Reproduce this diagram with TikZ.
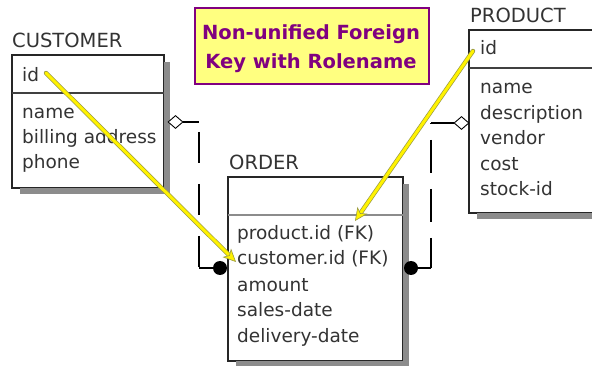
\documentclass[tikz,border=0pt]{standalone}
\usepackage{fontspec}
\setmainfont{DejaVu Sans}
\usetikzlibrary{arrows.meta,shapes.geometric,calc}
\definecolor{calloutfill}{HTML}{FFFF80}
\definecolor{calloutpurple}{HTML}{800080}
\definecolor{txt}{HTML}{333333}
\definecolor{yedge}{HTML}{9A9A40}
\begin{document}
\begin{tikzpicture}[x=1pt,y=-1pt,
  entbox/.style={draw=black!85, line width=1.1pt, fill=white, inner sep=0pt, outer sep=0pt, anchor=north west},
  shadowfill/.style={fill=black!45},
  divider/.style={draw=black!75, line width=1.2pt},
  title/.style={anchor=base west, inner sep=0pt, font=\fontsize{19.5}{22}\selectfont, text=txt},
  attr/.style={anchor=base west, inner sep=0pt, font=\fontsize{18.5}{20}\selectfont, text=txt},
  rel/.style={draw=black, line width=1.2pt},
  hollowdia/.style={diamond, draw=black, line width=0.9pt, fill=white, minimum width=15pt, minimum height=13pt, inner sep=0pt},
  dot/.style={circle, fill=black, minimum size=14pt, inner sep=0pt},
  yedgeline/.style={draw=yedge, line width=4.4pt, line cap=round},
  yline/.style={draw=yellow, line width=3pt, line cap=round},
  notetext/.style={anchor=base, inner sep=0pt, text=calloutpurple, font=\bfseries\fontsize{19.5}{22}\selectfont},
  ]
\useasboundingbox (0,0) rectangle (592,366);
\clip (0,0) rectangle (592,366);

% CUSTOMER
\node[entbox, minimum width=152pt, minimum height=133pt] (cust) at (12,55) {};
\fill[shadowfill] ($(cust.north east)+(0,7)$) rectangle ($(cust.south east)+(6,6)$);
\fill[shadowfill] ($(cust.south west)+(8,0)$) rectangle ($(cust.south east)+(6,6)$);
\draw[divider] ($(cust.north west)+(0,38)$) -- ($(cust.north east)+(0,38)$);
\node[title] (custT) at (12,48) {CUSTOMER};
\node[attr] (custid) at (22,82) {id};
\node[attr] (custname) at (22,119) {name};
\node[attr] (custbill) at (22,144) {billing address};
\node[attr] (custphone) at (22,169) {phone};

% ORDER
\node[entbox, minimum width=175pt, minimum height=184pt] (ord) at (228,177) {};
\fill[shadowfill] ($(ord.north east)+(0,7)$) rectangle ($(ord.south east)+(6,6)$);
\fill[shadowfill] ($(ord.south west)+(8,0)$) rectangle ($(ord.south east)+(6,6)$);
\draw[draw=black!45, line width=2.2pt] ($(ord.north west)+(0,38)$) -- ($(ord.north east)+(0,38)$);
\node[title] (ordT) at (229,170) {ORDER};
\node[attr] (ordpid) at (237,240) {product.id (FK)};
\node[attr] (ordcid) at (237,265) {customer.id (FK)};
\node[attr] (ordamt) at (237,291) {amount};
\node[attr] (ordsd) at (237,316.5) {sales-date};
\node[attr] (orddd) at (237,342) {delivery-date};

% PRODUCT
\node[entbox, minimum width=131pt, minimum height=183pt] (prod) at (469,30) {};
\fill[shadowfill] ($(prod.south west)+(8,0)$) rectangle ($(prod.south east)+(6,6)$);
\draw[divider] ($(prod.north west)+(0,38)$) -- ($(prod.north east)+(0,38)$);
\node[title] (prodT) at (470,23) {PRODUCT};
\node[attr] (prodid) at (480,55) {id};
\node[attr] (prodname) at (480,94) {name};
\node[attr] (proddesc) at (480,119.5) {description};
\node[attr] (prodvend) at (480,145) {vendor};
\node[attr] (prodcost) at (480,170.5) {cost};
\node[attr] (prodstock) at (480,196) {stock-id};

% relationship CUSTOMER - ORDER
\node[hollowdia] (d1) at (175.5,122) {};
\coordinate (c1a) at (199,122);
\coordinate (c1b) at (199,268);
\node[dot] (o1) at (220,268) {};
\draw[rel] (d1.east) -- (c1a);
\draw[rel, dash pattern=on 31pt off 21pt, dash phase=42pt] (c1a) -- (c1b);
\draw[rel] (c1b) -- (o1);

% relationship PRODUCT - ORDER
\node[hollowdia] (d2) at (461.5,123) {};
\coordinate (c2a) at (431,123);
\coordinate (c2b) at (431,268);
\node[dot] (o2) at (411,268) {};
\draw[rel] (d2.west) -- (c2a);
\draw[rel, dash pattern=on 33pt off 16pt, dash phase=32pt] (c2a) -- (c2b);
\draw[rel] (c2b) -- (o2);

% callout
\node[draw=calloutpurple, line width=1.8pt, fill=calloutfill, minimum width=234pt, minimum height=76pt, anchor=north west, inner sep=0pt] (note) at (194,7) {};
\node[notetext] (note1) at (311,40) {Non-unified Foreign};
\node[notetext] (note2) at (311,69) {Key with Rolename};

% yellow rolename arrows
\coordinate (y1s) at (46,73);
\coordinate (y1e) at (236,262);
\draw[yedgeline, shorten >=9pt] (y1s) -- (y1e);
\draw[yline, -{Stealth[length=13pt,width=12pt,inset=3.5pt,fill=yellow,color=yedge,line width=0.6pt]}] (y1s) -- (y1e);
\coordinate (y2s) at (473,51);
\coordinate (y2e) at (355,221);
\draw[yedgeline, shorten >=9pt] (y2s) -- (y2e);
\draw[yline, -{Stealth[length=13pt,width=12pt,inset=3.5pt,fill=yellow,color=yedge,line width=0.6pt]}] (y2s) -- (y2e);
\end{tikzpicture}
\end{document}
